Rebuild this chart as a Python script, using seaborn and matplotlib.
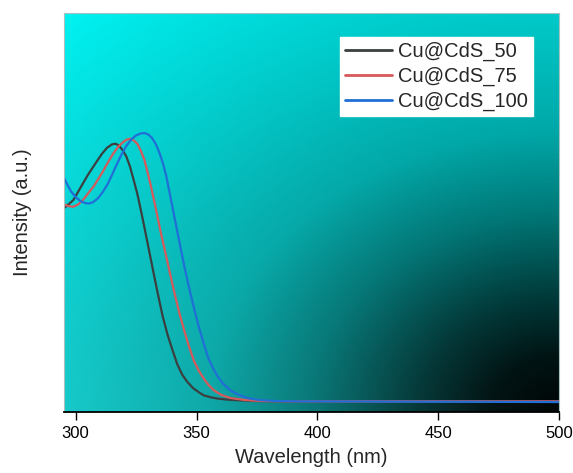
import numpy as np
import pandas as pd
import matplotlib
matplotlib.use("Agg")
import matplotlib.pyplot as plt
import seaborn as sns

# ---- data ----
wl_50 = [295, 297, 299, 301, 303, 305, 307, 309, 311, 313, 315, 316.5, 318, 319.5, 321,
         322.5, 324, 325.5, 327, 328.5, 330, 332, 334, 336, 338, 340, 342, 344, 346,
         348.5, 351, 353, 356, 359, 363, 368, 375, 385, 500]
int_50 = [0.578, 0.590, 0.603, 0.628, 0.653, 0.678, 0.700, 0.722, 0.743, 0.760, 0.770,
          0.772, 0.766, 0.752, 0.733, 0.703, 0.663, 0.622, 0.572, 0.519, 0.465, 0.393,
          0.322, 0.255, 0.200, 0.155, 0.112, 0.081, 0.060, 0.040, 0.027, 0.018, 0.012,
          0.008, 0.005, 0.003, 0.001, 0.0, 0.0]

wl_75 = [295, 297, 299, 301, 303, 305, 307.5, 309.5, 311.5, 313.5, 315.5, 317.5, 319.5,
         321, 322.5, 324, 325.5, 327, 328.5, 330, 331.5, 333, 335, 337, 339, 341, 343,
         345, 347, 349, 351, 353, 355, 357, 360, 364, 370, 377, 387, 500]
int_75 = [0.591, 0.585, 0.583, 0.590, 0.603, 0.622, 0.645, 0.668, 0.692, 0.718, 0.742,
          0.762, 0.776, 0.784, 0.787, 0.782, 0.772, 0.750, 0.722, 0.679, 0.633, 0.583,
          0.513, 0.449, 0.384, 0.321, 0.262, 0.210, 0.162, 0.120, 0.091, 0.068, 0.049,
          0.034, 0.020, 0.010, 0.004, 0.001, 0.0, 0.0]

wl_100 = [295, 296.5, 298, 300, 302, 304, 305.5, 307, 309, 311, 313, 315, 317, 319, 321,
          323, 325, 327, 328.5, 330, 331.5, 333, 334.5, 336, 337.5, 339, 341, 343, 345,
          347, 349, 351, 353, 355, 357, 359, 361, 364, 367, 371, 376, 383, 392, 500]
int_100 = [0.673, 0.650, 0.630, 0.612, 0.600, 0.594, 0.593, 0.596, 0.607, 0.625, 0.648,
           0.678, 0.710, 0.740, 0.766, 0.785, 0.797, 0.803, 0.804, 0.800, 0.790, 0.773,
           0.748, 0.716, 0.675, 0.620, 0.547, 0.475, 0.403, 0.338, 0.278, 0.222, 0.173,
           0.127, 0.097, 0.072, 0.053, 0.033, 0.021, 0.010, 0.004, 0.001, 0.0, -0.002]

series_names = ["Cu@CdS_50", "Cu@CdS_75", "Cu@CdS_100"]
x_ticks = [300, 350, 400, 450, 500]

frames = []
for name, wl, it in zip(series_names, [wl_50, wl_75, wl_100], [int_50, int_75, int_100]):
    frames.append(pd.DataFrame({"Wavelength": wl, "Intensity": it, "Sample": name}))
df = pd.concat(frames, ignore_index=True)

# ---- figure ----
sns.set_style("white")
plt.rcParams["font.family"] = ["Liberation Sans", "DejaVu Sans"]

fig = plt.figure(figsize=(5.73, 4.73), dpi=100)
ax = fig.add_axes([0.111, 0.1296, 0.9756 - 0.111, 0.972 - 0.1296])

# gradient background (cyan top-left -> black bottom-right)
nx, ny = 400, 400
gx = np.linspace(0, 1, nx)[None, :]
gy = np.linspace(0, 1, ny)[:, None]  # 0 top, 1 bottom
r = np.sqrt((1 - gx) ** 2 + (1 - gy) ** 2) / np.sqrt(2)
B = np.interp(r, [0, 0.1, 0.2, 0.354, 0.5, 0.707, 1.0],
              [0.02, 0.08, 0.22, 0.47, 0.66, 0.79, 0.95])
R = np.clip(0.09 * gy * (1 - gx), 0, 1)
img = np.dstack([R, B, B])
ax.imshow(img, extent=[0, 1, 0, 1], transform=ax.transAxes, aspect="auto",
          zorder=0, interpolation="bilinear")

palette = {"Cu@CdS_50": "#3b3f3f", "Cu@CdS_75": "#d65a5a", "Cu@CdS_100": "#1f6fd6"}
sns.lineplot(data=df, x="Wavelength", y="Intensity", hue="Sample", hue_order=series_names,
             palette=palette, estimator=None, sort=True, linewidth=1.6, ax=ax, zorder=2)

ax.set_xlim(295, 500)
ax.set_ylim(-0.031, 1.163)
ax.set_xticks(x_ticks)
ax.set_xticklabels([str(t) for t in x_ticks])
ax.set_yticks([])
ax.tick_params(axis="x", direction="out", length=6, width=1, labelsize=12, pad=4,
               bottom=True, colors="black")

ax.set_xlabel("Wavelength (nm)", fontsize=14.5)
ax.set_ylabel("Intensity (a.u.)", fontsize=14.5)
ax.xaxis.set_label_coords(0.5, -0.09)
ax.yaxis.set_label_coords(-0.063, 0.5)

for side in ["left", "right", "top"]:
    ax.spines[side].set_color("#a8c0c0")
    ax.spines[side].set_linewidth(0.8)
ax.spines["bottom"].set_color("black")
ax.spines["bottom"].set_linewidth(1.3)

handles, labels = ax.get_legend_handles_labels()
leg = ax.legend(handles, labels, loc="upper right", bbox_to_anchor=(0.9475, 0.9405),
                borderaxespad=0, fontsize=14.5, frameon=True, fancybox=False,
                framealpha=1, edgecolor="white", facecolor="white",
                handlelength=2.35, handletextpad=0.3, labelspacing=0.28,
                borderpad=0.25)
for line in leg.get_lines():
    line.set_linewidth(2.0)

fig.savefig("out.png", dpi=100)
